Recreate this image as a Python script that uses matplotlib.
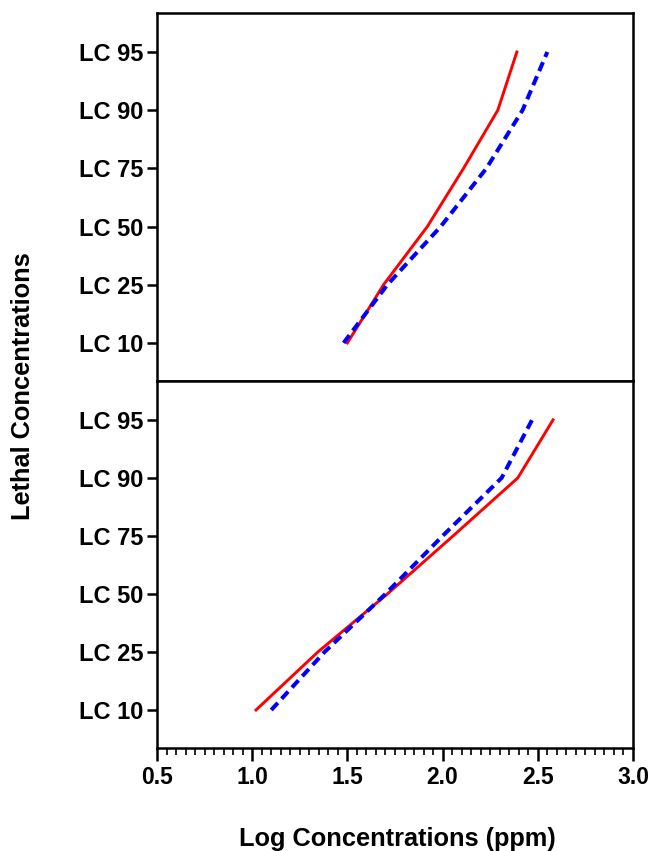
import matplotlib
matplotlib.use("Agg")
import matplotlib.pyplot as plt
from matplotlib.ticker import MultipleLocator

plt.rcParams["font.family"] = ["Liberation Sans", "DejaVu Sans"]
plt.rcParams["font.weight"] = "bold"

# category positions for the lethal concentration levels
lc_labels = ["LC 10", "LC 25", "LC 50", "LC 75", "LC 90", "LC 95"]
lc_pos = [1, 2, 3, 4, 5, 6]

# top panel
top_red = [1.50, 1.69, 1.92, 2.11, 2.29, 2.39]
top_blue = [1.48, 1.71, 1.99, 2.23, 2.42, 2.55]
# bottom panel
bot_red = [1.02, 1.345, 1.71, 2.055, 2.395, 2.58]
bot_blue = [1.10, 1.38, 1.70, 2.00, 2.31, 2.47]

x_ticks = [0.5, 1.0, 1.5, 2.0, 2.5, 3.0]

W, H = 651, 851
fig = plt.figure(figsize=(W / 100, H / 100), dpi=100)
left, right = 157 / W, 633 / W
y_top, y_mid, y_bot = 13, 381, 748
ax1 = fig.add_axes([left, 1 - y_mid / H, right - left, (y_mid - y_top) / H])
ax2 = fig.add_axes([left, 1 - y_bot / H, right - left, (y_bot - y_mid) / H])

for ax, red, blue in [(ax1, top_red, top_blue), (ax2, bot_red, bot_blue)]:
    ax.plot(red, lc_pos, color="#ff0000", lw=2.1)
    ax.plot(blue, lc_pos, color="#0000ff", lw=2.9, ls=(0, (2.4, 1.4)))
    ax.set_xlim(0.5, 3.0)
    ax.set_ylim(0.345, 6.67)
    ax.set_yticks(lc_pos)
    ax.set_yticklabels(lc_labels)
    ax.tick_params(axis="y", length=7, width=1.8, pad=3, labelsize=17)
    for s in ax.spines.values():
        s.set_linewidth(1.8)

ax1.tick_params(axis="x", bottom=False, labelbottom=False)
ax2.set_xticks(x_ticks)
ax2.set_xticklabels([f"{v:.1f}" for v in x_ticks])
ax2.xaxis.set_minor_locator(MultipleLocator(0.05))
ax2.tick_params(axis="x", which="major", length=9, width=1.8, pad=4, labelsize=16.5)
ax2.tick_params(axis="x", which="minor", length=5, width=1.2)

fig.text(397 / W, 1 - 839 / H, "Log Concentrations (ppm)", ha="center", va="center",
         fontsize=18.3, fontweight="bold")
fig.text(23 / W, 1 - 386 / H, "Lethal Concentrations", ha="center", va="center",
         rotation=90, fontsize=18.3, fontweight="bold")

fig.savefig("out.png", dpi=100)
